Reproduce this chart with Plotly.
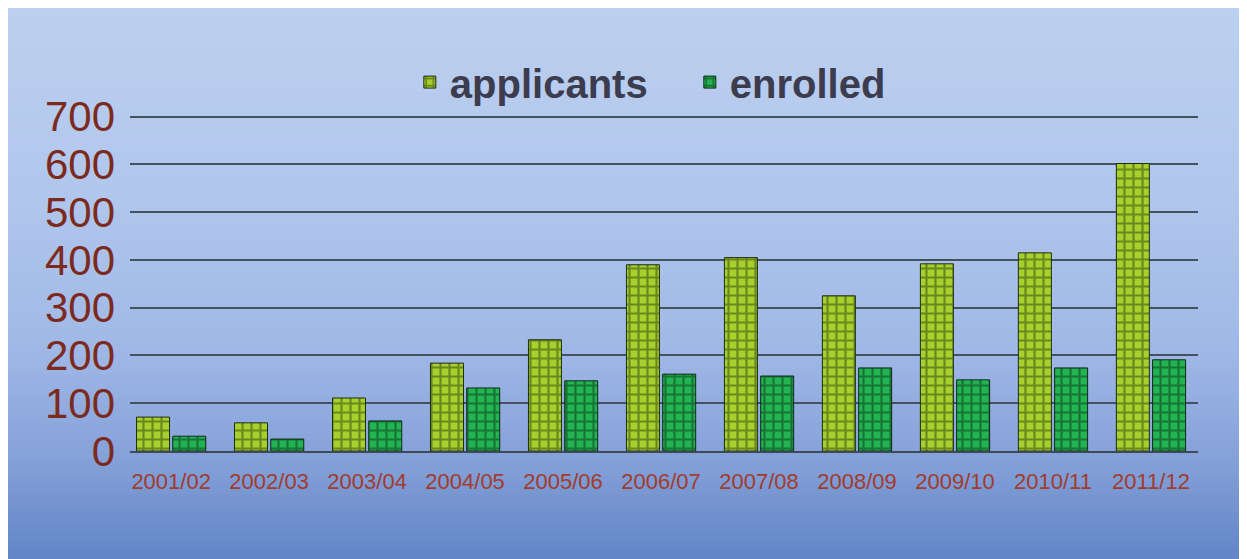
import plotly.graph_objects as go

years = ["2001/02", "2002/03", "2003/04", "2004/05", "2005/06", "2006/07",
         "2007/08", "2008/09", "2009/10", "2010/11", "2011/12"]
applicants = [71, 59, 111, 184, 233, 390, 405, 325, 392, 415, 602]
enrolled = [31, 25, 63, 132, 147, 161, 157, 174, 149, 174, 191]
y_ticks = [0, 100, 200, 300, 400, 500, 600, 700]

fig = go.Figure()
fig.add_trace(go.Bar(
    name="applicants", x=years, y=applicants,
    marker=dict(color="#9ec82c", line=dict(color="#1e2e14", width=1),
                pattern=dict(shape="+", fgcolor="#2c3c10", bgcolor="#a8d02c",
                             size=9, solidity=0.42)),
))
fig.add_trace(go.Bar(
    name="enrolled", x=years, y=enrolled,
    marker=dict(color="#1eaa4c", line=dict(color="#10281a", width=1),
                pattern=dict(shape="+", fgcolor="#0e3418", bgcolor="#22b452",
                             size=9, solidity=0.42)),
))

# background gradient (decorative); page is offset 8px by body margin
W, H = 1247, 551
L, R, T, B = 122, 57, 103, 108
ph = H - T - B
pw = W - L - R
stops = [(0, (188, 208, 239)), (192, (176, 198, 236)), (342, (160, 184, 230)),
         (442, (135, 163, 218)), (551, (98, 133, 198))]
def col(py):
    for (a, ca), (b, cb) in zip(stops[:-1], stops[1:]):
        if a <= py <= b:
            t = (py - a) / (b - a)
            return "rgb(%d,%d,%d)" % tuple(round(ca[i] + (cb[i] - ca[i]) * t) for i in range(3))
    return "rgb(%d,%d,%d)" % stops[-1][1]
shapes = []
step = 6
py = 0
while py < H:
    y0 = py
    y1 = min(py + step + 1, H)
    shapes.append(dict(type="rect", xref="paper", yref="paper", layer="below",
                       x0=(-L) / pw, x1=(W - L) / pw,
                       y0=(H - B - y1) / ph, y1=(H - B - y0) / ph,
                       fillcolor=col(py + step / 2), line=dict(width=0)))
    py += step

fig.update_layout(
    width=W, height=H,
    margin=dict(l=L, r=R, t=T, b=B),
    paper_bgcolor="white", plot_bgcolor="rgba(0,0,0,0)",
    shapes=shapes,
    barmode="group", bargap=0.26, bargroupgap=0.09,
    showlegend=True,
    legend=dict(orientation="h", x=0.262, xanchor="left", y=1.085, yanchor="middle",
                entrywidth=235,
                font=dict(family="Liberation Sans, Arial", size=40, color="#3c3c4e", weight="bold"),
                bgcolor="rgba(0,0,0,0)"),
    xaxis=dict(range=[-0.42, 10.48], showgrid=False, zeroline=False,
               showline=True, linecolor="#3e4a58", linewidth=2,
               tickfont=dict(family="Liberation Sans, Arial", size=22, color="#a23c2c"),
               ticks="", ticklabelstandoff=10),
    yaxis=dict(range=[0, 712], tickvals=y_ticks, showgrid=True, gridcolor="#44515e", gridwidth=2,
               zeroline=False, showline=False,
               tickfont=dict(family="Liberation Sans, Arial", size=42, color="#7c2a1e"),
               ticks="", ticklabelstandoff=14),
)

fig.write_html("out.html")
